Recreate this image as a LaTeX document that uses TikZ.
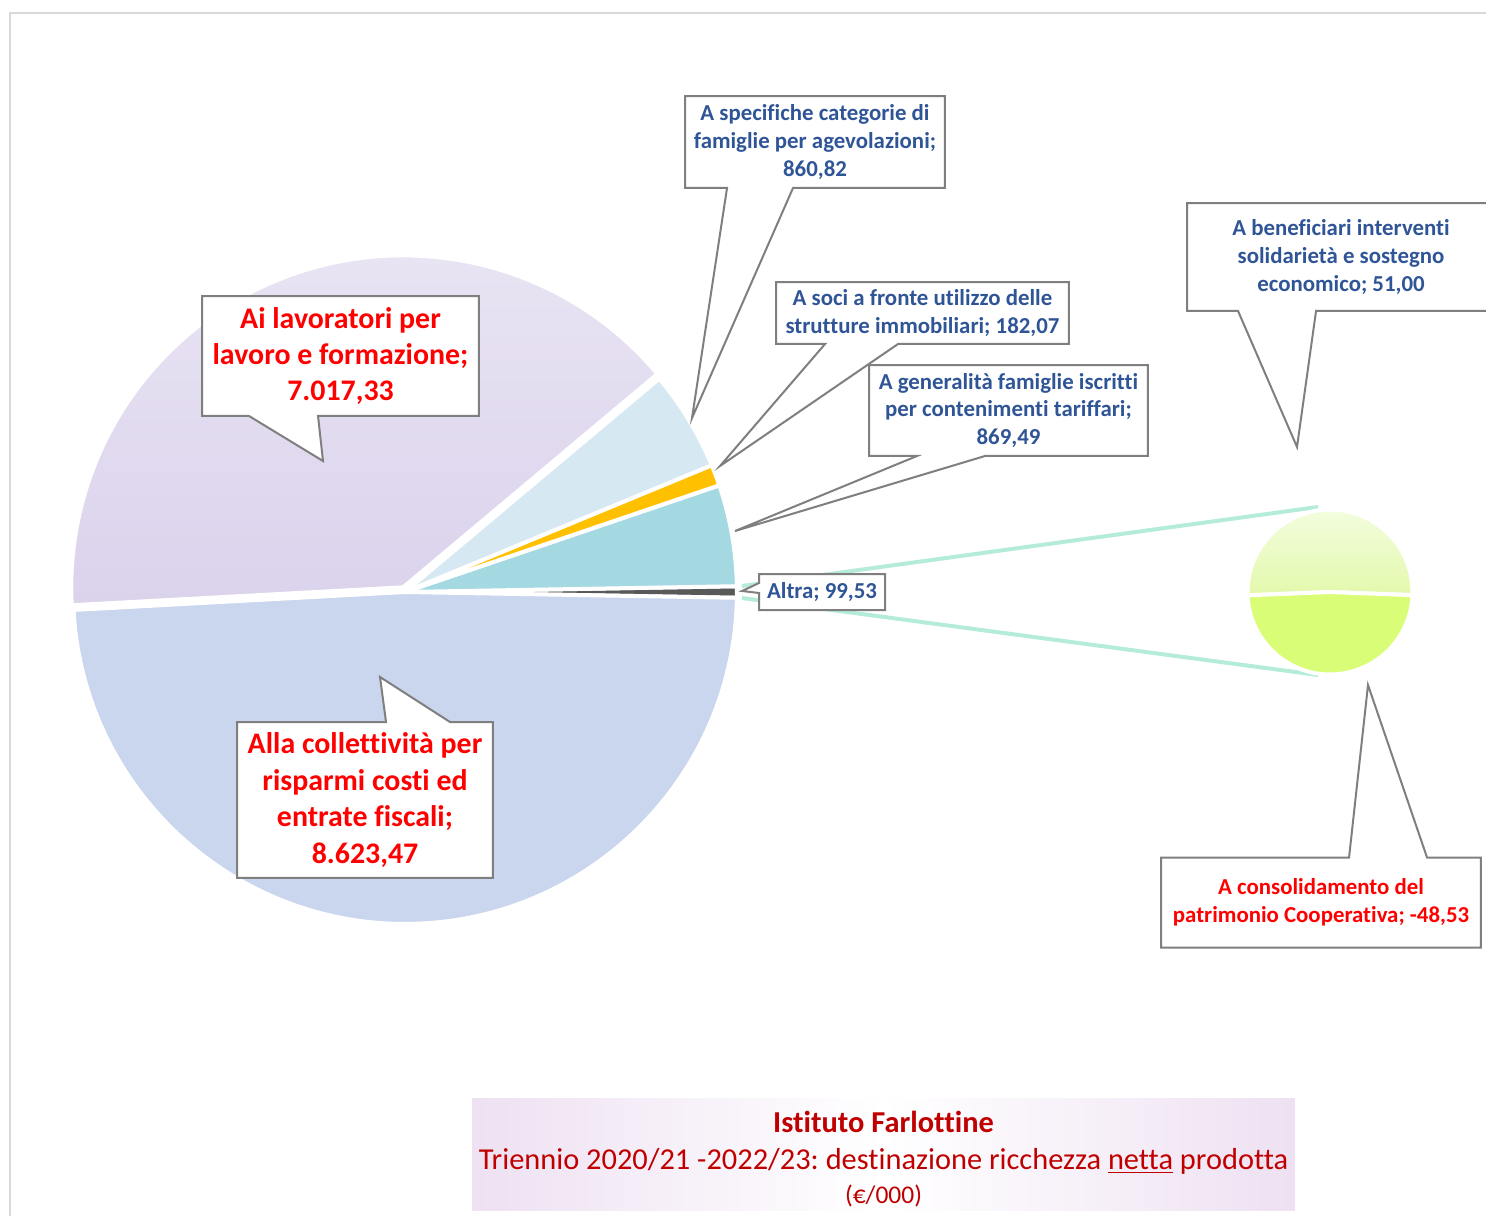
\documentclass[tikz,border=0pt]{standalone}
\usepackage{fontspec}
\setmainfont[Ligatures={NoCommon}]{Carlito}
\usetikzlibrary{calc}
\frenchspacing

\definecolor{bluetxt}{HTML}{2F5597}
\definecolor{redtxt}{HTML}{FF0000}
\definecolor{titlered}{HTML}{C00000}
\definecolor{callgray}{HTML}{7F7F7F}
\definecolor{framegray}{HTML}{D9D9D9}
\definecolor{lavlight}{HTML}{EAE6F4}
\definecolor{lavdark}{HTML}{DBD2EC}
\definecolor{collblue}{HTML}{C9D6EE}
\definecolor{specblue}{HTML}{D6E8F2}
\definecolor{sociyellow}{HTML}{FFC000}
\definecolor{genteal}{HTML}{A5D9E2}
\definecolor{altgray}{HTML}{595959}
\definecolor{linkmint}{HTML}{B5ECD8}
\definecolor{benlight}{HTML}{F3FDDF}
\definecolor{benmid}{HTML}{E3F9AC}
\definecolor{conslime}{HTML}{DAFD78}
\definecolor{titlepink}{HTML}{EEE1F2}

\begin{document}
\begin{tikzpicture}[
        x=0.02cm, y=-0.02cm,
        pieslice/.style={draw=white, line width=0.08cm, line join=round},
        barline/.style={draw=linkmint, line width=0.08cm},
        labbox/.style={fill=white, inner sep=0pt, outer sep=0pt, align=center},
        bluelab/.style={labbox, font=\fontsize{13}{15.9}\selectfont\bfseries, text=bluetxt},
        redlab/.style={labbox, font=\fontsize{17}{20.7}\selectfont\bfseries, text=redtxt},
        calloutline/.style={draw=callgray, line width=0.04cm},
        titlebox/.style={left color=titlepink, right color=titlepink, middle color=white, inner sep=0pt,
            minimum width=16.46cm, minimum height=2.24cm}
    ]
        \useasboundingbox (0,0) rectangle (1486,1216);
        % cornice
        \draw[framegray, line width=0.04cm] (10,1216) -- (10,13) -- (1486,13);

        % torta principale
        \coordinate (o)    at (405,592);
        \coordinate (oLav) at (403.2,587.3);
        \filldraw[pieslice, fill=altgray]    (o) -- ++(-1:6.64cm) arc[start angle=-1, end angle=1, radius=6.64cm] -- cycle;
        \filldraw[pieslice, fill=genteal]    (o) -- ++(1:6.64cm) arc[start angle=1, end angle=18.75, radius=6.64cm] -- cycle;
        \filldraw[pieslice, fill=sociyellow] (o) -- ++(18.75:6.64cm) arc[start angle=18.75, end angle=22.46, radius=6.64cm] -- cycle;
        \filldraw[pieslice, fill=specblue]   (o) -- ++(22.46:6.64cm) arc[start angle=22.46, end angle=40, radius=6.64cm] -- cycle;
        \shadedraw[pieslice, top color=lavlight, bottom color=lavdark] (oLav) -- ++(40:6.64cm) arc[start angle=40, end angle=183.1, radius=6.64cm] -- cycle;
        \filldraw[pieslice, fill=collblue]   (o) -- ++(183.1:6.64cm) arc[start angle=183.1, end angle=359, radius=6.64cm] -- cycle;

        % linee verso la torta secondaria
        \coordinate (altTop) at (742,586);
        \coordinate (altBot) at (742,598);
        \coordinate (secTop) at (1318,507);
        \coordinate (secBot) at (1318,675);
        \draw[barline] (altTop) -- (secTop);
        \draw[barline] (altBot) -- (secBot);

        % torta secondaria
        \coordinate (s) at (1330,592);
        \shadedraw[pieslice, top color=benlight, bottom color=benmid] (s) -- ++(-2.2:1.65cm) arc[start angle=-2.2, end angle=182.3, radius=1.65cm] -- cycle;
        \filldraw[pieslice, fill=conslime] (s) -- ++(182.3:1.65cm) arc[start angle=182.3, end angle=357.8, radius=1.65cm] -- cycle;

        % etichette
        \coordinate (lavTip)   at (323,461);
        \coordinate (collTip)  at (380,677);
        \coordinate (specTip)  at (692,418);
        \coordinate (sociTip)  at (720,466);
        \coordinate (genTip)   at (735,531);
        \coordinate (benTip)   at (1297,447);
        \coordinate (consTip)  at (1368,685);
        \coordinate (altraTip) at (742,591);

        \node[redlab, minimum width=5.54cm, minimum height=2.4cm] (lav) at (340.5,356)
            {Ai lavoratori per\\lavoro e formazione;\\7.017,33};
        \fill[white] ($(lav.south west)+(47,0)$) -- (lavTip) -- ($(lav.south west)+(116,0)$) -- cycle;
        \draw[calloutline] (lav.south west) -- (lav.north west) -- (lav.north east) -- (lav.south east)
            -- ($(lav.south west)+(116,0)$) -- (lavTip) -- ($(lav.south west)+(47,0)$) -- cycle;

        \node[redlab, minimum width=5.12cm, minimum height=3.12cm] (coll) at (365,800)
            {Alla collettività per\\risparmi costi ed\\entrate fiscali;\\8.623,47};
        \fill[white] ($(coll.north west)+(149,0)$) -- (collTip) -- ($(coll.north west)+(213,0)$) -- cycle;
        \draw[calloutline] (coll.north west) -- ($(coll.north west)+(149,0)$) -- (collTip) -- ($(coll.north west)+(213,0)$)
            -- (coll.north east) -- (coll.south east) -- (coll.south west) -- cycle;

        \node[bluelab, minimum width=5.2cm, minimum height=1.84cm] (spec) at (815,142)
            {A specifiche categorie di\\famiglie per agevolazioni;\\860,82};
        \fill[white] ($(spec.south west)+(42,0)$) -- (specTip) -- ($(spec.south west)+(108,0)$) -- cycle;
        \draw[calloutline] (spec.south west) -- (spec.north west) -- (spec.north east) -- (spec.south east)
            -- ($(spec.south west)+(108,0)$) -- (specTip) -- ($(spec.south west)+(42,0)$) -- cycle;

        \node[bluelab, minimum width=5.86cm, minimum height=1.24cm] (soci) at (922.5,313)
            {A soci a fronte utilizzo delle\\strutture immobiliari; 182,07};
        \fill[white] ($(soci.south west)+(49,0)$) -- (sociTip) -- ($(soci.south west)+(122,0)$) -- cycle;
        \draw[calloutline] (soci.south west) -- (soci.north west) -- (soci.north east) -- (soci.south east)
            -- ($(soci.south west)+(122,0)$) -- (sociTip) -- ($(soci.south west)+(49,0)$) -- cycle;

        \node[bluelab, minimum width=5.58cm, minimum height=1.82cm] (gen) at (1008.5,410.5)
            {A generalità famiglie iscritti\\per contenimenti tariffari;\\869,49};
        \fill[white] ($(gen.south west)+(48,0)$) -- (genTip) -- ($(gen.south west)+(116,0)$) -- cycle;
        \draw[calloutline] (gen.south west) -- (gen.north west) -- (gen.north east) -- (gen.south east)
            -- ($(gen.south west)+(116,0)$) -- (genTip) -- ($(gen.south west)+(48,0)$) -- cycle;

        \node[bluelab, minimum width=6.16cm, minimum height=2.16cm] (ben) at (1341,257)
            {A beneficiari interventi\\solidarietà e sostegno\\economico; 51,00};
        \fill[white] ($(ben.south west)+(51,0)$) -- (benTip) -- ($(ben.south west)+(129,0)$) -- cycle;
        \draw[calloutline] (ben.south west) -- (ben.north west) -- (ben.north east) -- (ben.south east)
            -- ($(ben.south west)+(129,0)$) -- (benTip) -- ($(ben.south west)+(51,0)$) -- cycle;

        \node[bluelab, text=redtxt, minimum width=6.4cm, minimum height=1.8cm] (cons) at (1321,902.5)
            {A consolidamento del\\patrimonio Cooperativa; -48,53};
        \fill[white] ($(cons.north west)+(188,0)$) -- (consTip) -- ($(cons.north west)+(266,0)$) -- cycle;
        \draw[calloutline] (cons.north west) -- ($(cons.north west)+(188,0)$) -- (consTip) -- ($(cons.north west)+(266,0)$)
            -- (cons.north east) -- (cons.south east) -- (cons.south west) -- cycle;

        \node[bluelab, minimum width=2.52cm, minimum height=0.72cm] (altra) at (822,592) {Altra; 99,53};
        \fill[white] ($(altra.north west)+(0,9)$) -- (altraTip) -- ($(altra.north west)+(0,19)$) -- cycle;
        \draw[calloutline] (altra.north west) -- (altra.north east) -- (altra.south east) -- (altra.south west)
            -- ($(altra.north west)+(0,19)$) -- (altraTip) -- ($(altra.north west)+(0,9)$) -- cycle;

        % titolo
        \node[titlebox] (title) at (883.5,1154) {};
        \node[text=titlered, font=\fontsize{17.3}{21}\selectfont, align=center, inner sep=0pt] (titleText) at (883.5,1159)
            {{\bfseries Istituto Farlottine}\\
             Triennio 2020/21 -2022/23: destinazione ricchezza \underline{netta} prodotta\\[-1.5pt]
             {\fontsize{14.5}{16}\selectfont (€/000)}};
\end{tikzpicture}
\end{document}
